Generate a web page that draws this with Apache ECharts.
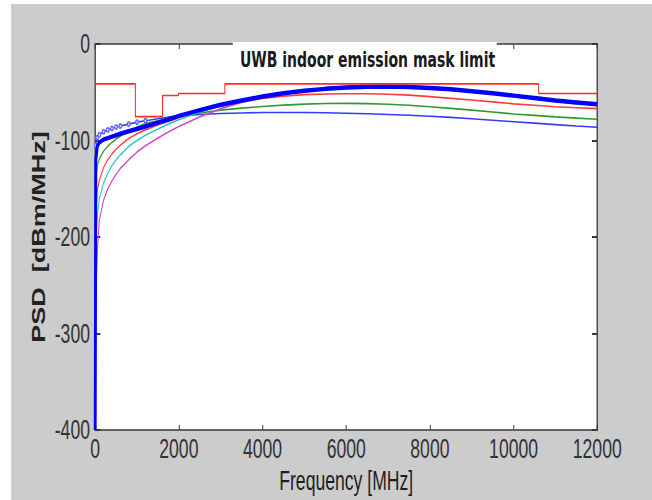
<!DOCTYPE html>
<html>
<head>
<meta charset="utf-8">
<script src="https://cdn.jsdelivr.net/npm/echarts@6/dist/echarts.min.js"></script>
<style>
  html, body { margin: 0; padding: 0; background: #ffffff; overflow: hidden; }
  #chart { width: 1000px; height: 500px; transform: scaleX(0.652); transform-origin: 0 0; }
</style>
</head>
<body>
<div id="chart"></div>
<script>
// ---- data ----
const freqMHz = [0, 15, 50, 100, 200, 300, 400, 500, 600, 800, 1000, 1200, 1500, 1800, 2000, 2500, 3000, 3500, 4000, 4500, 5000, 5500, 6000, 6500, 7000, 7500, 8000, 8500, 9000, 9500, 10000, 10500, 11000, 11500, 12000];

const psdBlueThick = [-400, -120, -106, -102, -99, -97.5, -96, -94.5, -93, -90.5, -88, -85.5, -81.5, -77.5, -74.5, -68.5, -63, -58.5, -54.5, -51, -48.5, -46.5, -45, -44.2, -44, -44.5, -45.5, -47, -49, -51, -53.5, -56, -58.5, -60.5, -62.5];
const psdBlueThin  = [-400, -105, -97, -94, -91, -89, -87.5, -86, -85, -83, -81, -79.5, -77.5, -75.5, -74.5, -73, -72, -71.5, -71, -71, -71, -71.3, -71.8, -72.3, -73, -73.8, -74.8, -76, -77.5, -79, -80.5, -82, -83.5, -85, -86.3];
const psdGreen     = [-376, -140, -126, -119, -111, -106, -102, -98.5, -95.5, -90.5, -86, -82.5, -79.5, -77, -75, -71.5, -68.5, -66.5, -64.8, -63.3, -62.3, -61.7, -61.5, -61.8, -62.5, -63.5, -65, -66.7, -68.5, -70.5, -72.5, -74, -75.5, -76.8, -78];
const psdRed       = [-366, -175, -152, -141, -128, -120, -114, -109, -105, -98, -93, -89, -84, -79.5, -76.5, -70, -64.5, -60, -56.5, -54, -52.5, -51.8, -51.5, -51.5, -52, -53, -54.5, -56.3, -58, -60, -62, -63.5, -65, -66, -67];
const psdCyan      = [-230, -205, -178, -160, -144, -134, -126, -120, -115, -106, -100, -94.5, -88, -82, -78.5, -70.5, -64, -59, -55, -51.5, -49, -47, -45.5, -44.8, -44.6, -45, -46, -47.5, -49.5, -51.5, -54, -56.5, -59, -61, -63];
const psdMagenta   = [-300, -272, -215, -182, -162, -150, -142, -135, -129, -120, -112, -105.5, -97.5, -90, -85.5, -75.5, -67, -60.5, -55.5, -52, -49.3, -47.3, -46, -45.3, -45, -45.3, -46.3, -47.8, -49.8, -52, -54.5, -57, -59.5, -61.5, -63.5];

// FCC indoor UWB emission mask (each level holds from its frequency on)
const maskFreq  = [0, 960, 1610, 1990, 3100, 10600, 12000];
const maskLevel = [-41.3, -75.3, -53.3, -51.3, -41.3, -51.3, -51.3];

// axis ranges / ticks
const xMin = 0, xMax = 12000, xStep = 2000;
const yMin = -400, yMax = 0, yStep = 100;

const titleText = 'UWB indoor emission mask limit';
const xName = 'Frequency [MHz]';
const yName = 'PSD  [dBm/MHz]';

// ---- chart ----
const pairs = (xs, ys) => xs.map((x, i) => [x, ys[i]]);
const thinData = freqMHz.map((f, i) => (f > 0 && f <= 1200)
  ? { value: [f, psdBlueThin[i]], symbol: 'emptyCircle', symbolSize: 4 }
  : { value: [f, psdBlueThin[i]] });

const chart = echarts.init(document.getElementById('chart'), null, { renderer: 'svg' });

const axisLineStyleX = { color: '#383838', width: 1.5 };
const axisLineStyleY = { color: '#383838', width: 2 };
const labelFont = { fontFamily: '"Liberation Sans", Arial, sans-serif', fontSize: 27, color: '#333333' };
const plain = v => String(v);

const lineSeries = (name, data, color, width, z) => ({
  name, type: 'line', data, symbol: 'none', showSymbol: false,
  lineStyle: { color, width }, itemStyle: { color }, z, animation: false,
  xAxisIndex: 0, yAxisIndex: 0
});

chart.setOption({
  animation: false,
  backgroundColor: 'transparent',
  graphic: [{
    type: 'rect', z: -100, silent: true,
    shape: { x: 17, y: 4, width: 1000, height: 500 },
    style: { fill: '#cccccc' }
  }],
  title: {
    text: titleText,
    left: 357, top: 42,
    backgroundColor: '#ffffff',
    padding: [6, 2, 6, 11],
    textStyle: { fontFamily: '"DejaVu Sans", Verdana, sans-serif', fontWeight: 'bold', fontSize: 21.5, color: '#1a1a1a' }
  },
  grid: { left: 146, right: 84, top: 44, bottom: 70, show: true, backgroundColor: '#ffffff', borderWidth: 0, containLabel: false, outerBoundsMode: 'none' },
  xAxis: [{
    type: 'value', min: xMin, max: xMax, interval: xStep, position: 'bottom',
    axisLine: { show: true, onZero: false, lineStyle: axisLineStyleX },
    axisTick: { show: true, inside: true, length: 5, lineStyle: { color: '#383838', width: 1.5 } },
    axisLabel: Object.assign({ margin: 5, formatter: plain }, labelFont),
    splitLine: { show: false },
    name: xName, nameLocation: 'middle', nameGap: 35,
    nameTextStyle: { fontFamily: '"Liberation Sans", Arial, sans-serif', fontSize: 27, color: '#1e1e1e' }
  }, {
    type: 'value', min: xMin, max: xMax, interval: xStep, position: 'top',
    axisLine: { show: true, onZero: false, lineStyle: axisLineStyleX },
    axisTick: { show: true, inside: true, length: 5, lineStyle: { color: '#383838', width: 1.5 } },
    axisLabel: { show: false }, splitLine: { show: false }
  }],
  yAxis: [{
    type: 'value', min: yMin, max: yMax, interval: yStep, position: 'left',
    axisLine: { show: true, onZero: false, lineStyle: axisLineStyleY },
    axisTick: { show: true, inside: true, length: 8, lineStyle: { color: '#383838', width: 2 } },
    axisLabel: Object.assign({ margin: 8, formatter: plain }, labelFont),
    splitLine: { show: false },
    name: yName, nameLocation: 'middle', nameGap: 70,
    nameTextStyle: { fontFamily: '"Liberation Sans", Arial, sans-serif', fontSize: 27, fontWeight: 'bold', color: '#222222' }
  }, {
    type: 'value', min: yMin, max: yMax, interval: yStep, position: 'right',
    axisLine: { show: true, onZero: false, lineStyle: axisLineStyleY },
    axisTick: { show: true, inside: true, length: 8, lineStyle: { color: '#383838', width: 2 } },
    axisLabel: { show: false }, splitLine: { show: false }
  }],
  series: [
    Object.assign(lineSeries('PSD thin blue', thinData, '#3a3aff', 1.6, 2), { showSymbol: true, showAllSymbol: true, itemStyle: { color: '#6a6aff', borderColor: '#5a5aff', borderWidth: 1 } }),
    lineSeries('PSD green', pairs(freqMHz, psdGreen), '#2f9a2f', 1.6, 3),
    lineSeries('PSD red', pairs(freqMHz, psdRed), '#ff3a3a', 1.6, 4),
    lineSeries('PSD cyan', pairs(freqMHz, psdCyan), '#22c8c8', 1.6, 5),
    lineSeries('PSD magenta', pairs(freqMHz, psdMagenta), '#cc44cc', 1.6, 6),
    lineSeries('PSD blue', pairs(freqMHz, psdBlueThick), '#0000ff', 4.5, 7),
    Object.assign(lineSeries('Indoor mask', pairs(maskFreq, maskLevel), '#ff2a2a', 1.6, 8), { step: 'end' })
  ]
});
</script>
</body>
</html>
